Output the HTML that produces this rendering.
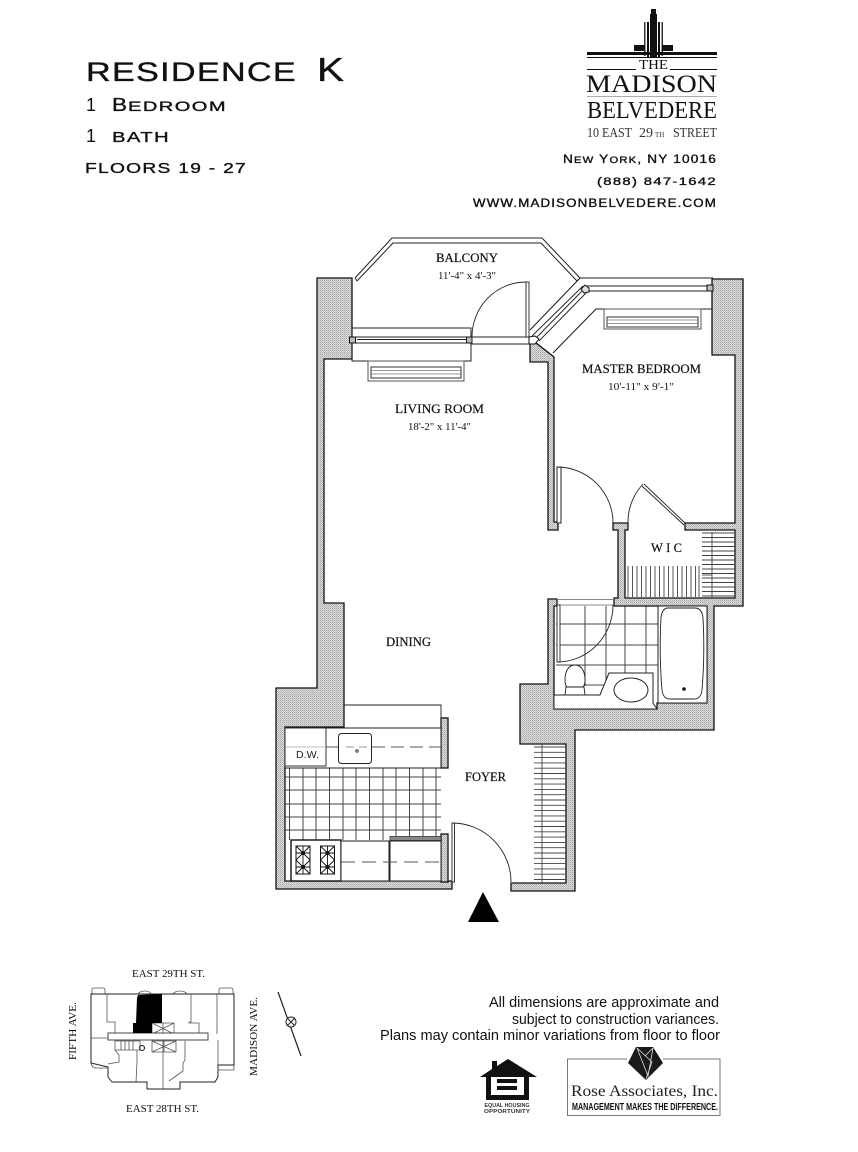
<!DOCTYPE html>
<html><head><meta charset="utf-8"><style>
html,body{margin:0;padding:0;background:#fff;width:858px;height:1152px;overflow:hidden}
svg{display:block}
.s{font-family:"Liberation Sans",sans-serif}
.r{font-family:"Liberation Serif",serif}
.lb{font-family:"Liberation Serif",serif;fill:#111;font-size:12.5px;stroke:#111;stroke-width:.2}
.dm{font-family:"Liberation Serif",serif;fill:#111;font-size:10.5px}
.w{fill:url(#st);stroke:#111;stroke-width:1.3}
.t{fill:none;stroke:#222;stroke-width:.9}
.f{fill:#fff;stroke:#222;stroke-width:1}
.g{fill:none;stroke:#444;stroke-width:1}
.h{stroke:#111;stroke-width:.35}
</style></head><body>
<svg width="858" height="1152" viewBox="0 0 858 1152" xmlns="http://www.w3.org/2000/svg">
<defs>
<pattern id="st" width="2" height="2" patternUnits="userSpaceOnUse"><rect width="2" height="2" fill="#dedede"/><rect width="1" height="1" fill="#a4a4a4"/><rect x="1" y="1" width="1" height="1" fill="#bcbcbc"/></pattern>
</defs>
<rect width="858" height="1152" fill="#fff"/>

<!-- header left -->
<g class="s" fill="#111">
<text class="h" x="86" y="81" font-size="26.5" textLength="211" lengthAdjust="spacingAndGlyphs" letter-spacing="1">RESIDENCE</text>
<text class="h" x="317" y="81" font-size="33" textLength="27" lengthAdjust="spacingAndGlyphs">K</text>
<text x="86" y="111" font-size="18">1</text>
<text class="h" x="112" y="111" font-size="18" textLength="15" lengthAdjust="spacingAndGlyphs">B</text>
<text class="h" x="128" y="111" font-size="14" textLength="99" lengthAdjust="spacingAndGlyphs" letter-spacing="1">EDROOM</text>
<text x="86" y="142" font-size="18">1</text>
<text class="h" x="112" y="142" font-size="15" textLength="58" lengthAdjust="spacingAndGlyphs" letter-spacing="1">BATH</text>
<text class="h" x="85" y="173" font-size="15" textLength="162" lengthAdjust="spacingAndGlyphs" letter-spacing="1">FLOORS 19 - 27</text>
</g>

<!-- logo -->
<g fill="#111">
<rect x="651" y="9" width="5" height="6"/><rect x="650" y="14" width="7" height="44"/>
<rect x="647" y="22" width="2" height="36"/><rect x="658" y="22" width="2" height="36"/>
<rect x="644" y="22" width="1.5" height="34" fill="#333"/><rect x="661.5" y="22" width="1.5" height="34" fill="#333"/>
<rect x="634" y="45" width="11" height="6"/><rect x="662" y="45" width="11" height="6"/>
<rect x="587" y="52" width="130" height="3"/><rect x="587" y="57" width="130" height="1"/>
<rect x="587" y="69" width="49" height="1"/><rect x="670" y="69" width="47" height="1"/>
<rect x="587" y="96" width="130" height=".7" fill="#888"/>
</g>
<g class="r" fill="#111" text-anchor="start">
<text x="639" y="69" font-size="13.5" textLength="29" lengthAdjust="spacingAndGlyphs">THE</text>
<text x="586" y="92" font-size="25" textLength="131" lengthAdjust="spacingAndGlyphs">MADISON</text>
<text x="587" y="118" font-size="24" textLength="130" lengthAdjust="spacingAndGlyphs">BELVEDERE</text>
<text x="587" y="137" font-size="13.5" fill="#333" textLength="45" lengthAdjust="spacingAndGlyphs">10 EAST</text>
<text x="639" y="137" font-size="14" fill="#333">29</text>
<text x="655" y="137" font-size="7" fill="#333">TH</text>
<text x="673" y="137" font-size="13.5" fill="#333" textLength="44" lengthAdjust="spacingAndGlyphs">STREET</text>
</g>
<g class="s" fill="#111">
<text class="h" x="563" y="163" font-size="11.5" textLength="154" lengthAdjust="spacingAndGlyphs" letter-spacing="1">N<tspan font-size="9.5">EW</tspan> Y<tspan font-size="9.5">ORK</tspan>, NY 10016</text>
<text class="h" x="597" y="185" font-size="11" textLength="120" lengthAdjust="spacingAndGlyphs" letter-spacing="1">(888) 847-1642</text>
<text class="h" x="473" y="207" font-size="11.5" textLength="244" lengthAdjust="spacingAndGlyphs" letter-spacing="1">WWW.MADISONBELVEDERE.COM</text>
</g>

<!-- balcony rail -->
<path d="M355 278L392 238L542 238L580 278" fill="none" stroke="#222" stroke-width="1"/>
<path d="M357 281L393 243L541 243L577 281" fill="none" stroke="#222" stroke-width="1"/>
<path d="M355 278L357 281M577 281L580 278" class="t"/>

<!-- kitchen floor tiles -->
<g class="g">
<path d="M289.500 768V840M303 768V840M316 768V840M329.500 768V840M343 768V840M356 768V840M369.500 768V840M383 768V840M396 768V840M409.500 768V840M423 768V840M436 768V840"/>
<path d="M285 777H441M285 790H441M285 804H441M285 817H441M285 830H441"/>
</g>

<!-- bath tiles -->
<g class="g">
<path d="M585 606V686M606 606V680M625 606V680M646 606V673"/>
<path d="M556 624H658M556 645H658M556 665H658M585 685H606"/>
</g>

<!-- walls -->
<polygon class="w" points="285,727 344,727 344,603 324,603 324,359 352,359 352,278 317,278 317,688 276,688 276,889 452,889 452,881 441,881 285,881"/>
<polygon class="w" points="712,279 743,279 743,606 714,606 714,730 575,730 575,891 511,891 511,883 566,883 566,744 520,744 520,684 548,684 548,599 557,599 557,606 554,606 554,709 657,709 657,703 707,703 707,606 614,606 614,598 618,598 618,530 613,530 613,523 628,523 628,530 625,530 625,598 735,598 735,530 685,530 685,523 735,523 735,355 712,355"/>
<polygon class="w" points="530,344 536,343 554,357 554,522 558,522 558,530 548,530 548,362 530,362"/>
<rect class="w" x="441" y="718" width="7" height="50"/>
<rect class="w" x="441" y="834" width="7" height="48"/>

<!-- living window & bay -->
<rect x="352" y="328" width="119" height="33" fill="none" stroke="#222" stroke-width="1"/>
<rect class="f" x="352" y="337" width="118" height="6"/>
<path d="M357 339.500H468" stroke="#222" stroke-width="1.100"/>
<rect x="349.500" y="337" width="6" height="6" fill="#bbb" stroke="#111" stroke-width="1"/>
<rect x="466.500" y="337" width="6" height="6" fill="#bbb" stroke="#111" stroke-width="1"/>
<rect class="f" x="472" y="337" width="58" height="7"/>
<!-- living heater -->
<rect x="368" y="361" width="96" height="20" fill="none" stroke="#555" stroke-width="1"/>
<rect x="371" y="367" width="90" height="11" fill="none" stroke="#333" stroke-width="1"/>
<path d="M371 370.500H461M371 374H461" stroke="#777" stroke-width=".8"/>

<!-- balcony door -->
<rect x="526" y="282" width="3" height="55" fill="#fff" stroke="#222" stroke-width=".9"/>
<path d="M526 282A54 55 0 0 0 472 337" class="t"/>

<!-- bedroom bay -->
<path d="M580 278H713" stroke="#222" stroke-width="1.100" fill="none"/>
<path d="M580 278L530 330" stroke="#222" stroke-width="1.100" fill="none"/>
<path d="M712 309H596L553 353" stroke="#222" stroke-width="1.100" fill="none"/>
<path d="M585 286H708M585 291H708" class="t" stroke-width="1.100"/>
<path d="M583 286L532 336M587 292L539 341M584 289L536 338" class="t"/>
<rect x="707" y="285" width="6" height="6" fill="#bbb" stroke="#111" stroke-width="1"/>
<polygon points="581,289 585,285 589,288 589,292 584,293" fill="#ddd" stroke="#111" stroke-width="1"/>
<polygon points="529,337 535,336 539,339 535,344 529,344" fill="#fff" stroke="#111" stroke-width="1"/>
<!-- bedroom heater -->
<rect x="604" y="309" width="97" height="20" fill="none" stroke="#555" stroke-width="1"/>
<rect x="607" y="317" width="91" height="10" fill="none" stroke="#333" stroke-width="1"/>
<path d="M607 320H698M607 323.500H698" stroke="#777" stroke-width=".8"/>

<!-- bedroom door -->
<rect x="557" y="467" width="4" height="56" fill="#fff" stroke="#222" stroke-width="1"/>
<path d="M557 467A56 56 0 0 1 613 523" class="t"/>
<!-- WIC door -->
<path d="M644 484L685 523M642 486L684 525" class="t"/>
<path d="M643 484A56 56 0 0 0 628 523" class="t"/>

<!-- WIC shelves -->
<g stroke="#444" stroke-width=".9" fill="none">
<path d="M702 533H735M702 537.500H735M702 542H735M702 546.500H735M702 551H735M702 555.500H735M702 560H735M702 564.500H735M702 569H735M702 573.500H735M702 578H735M702 582.500H735M702 587H735M702 591.500H735M702 596H735"/>
<path d="M712 532V597"/>
<path d="M628 566V597M632.500 566V597M637 566V597M641.500 566V597M646 566V597M650.500 566V597M655 566V597M659.500 566V597M664 566V597M668.500 566V597M673 566V597M677.500 566V597M682 566V597M686.500 566V597M691 566V597M695.500 566V597M699 566V597"/>
<path d="M702 575H712"/>
</g>

<!-- bath door -->
<path d="M557 599.500H614M557 605H614" stroke="#888" stroke-width=".9"/>
<rect x="557" y="605" width="3" height="57" fill="#fff" stroke="#222" stroke-width=".9"/>
<path d="M557 662A56 57 0 0 0 613 605" class="t"/>

<!-- tub -->
<rect x="658" y="606" width="49" height="97" fill="#fff" stroke="#222" stroke-width="1"/>
<path d="M668 608H695Q702 608 703 618Q705 655 702 690Q701 699 694 699H670Q663 699 662 690Q659 655 661 618Q662 608 668 608Z" class="t"/>
<circle cx="684" cy="689" r="1.800" fill="#111"/>

<!-- vanity -->
<path d="M554 695H600L609 673H653V703L657 709H554Z" fill="#fff" stroke="#222" stroke-width="1"/>
<ellipse cx="631" cy="690" rx="17" ry="12" fill="#fff" stroke="#222" stroke-width="1"/>
<!-- toilet -->
<path d="M575 665C582 665 585 672 585 680C585 684 584 686 583 687H567C566 686 565 684 565 680C565 672 568 665 575 665Z" fill="#fff" stroke="#222" stroke-width=".9"/>
<path d="M566 687H584L585 695H565Z" fill="#fff" stroke="#222" stroke-width=".9"/>

<!-- kitchen counter -->
<path d="M344 705H441V728" class="t" stroke-width="1"/>
<rect x="285" y="728" width="156" height="40" fill="#fff" stroke="#222" stroke-width="1"/>
<rect x="285" y="728" width="41" height="38" fill="#fff" stroke="#333" stroke-width="1"/>
<path d="M326 747H338M372 747H441" stroke="#555" stroke-width="1" stroke-dasharray="13 6"/>
<path d="M285 747H326" stroke="#aaa" stroke-width=".8"/>
<rect x="338.500" y="733.500" width="33" height="30" rx="3" fill="#fff" stroke="#222" stroke-width="1"/>
<path d="M346 747H368" stroke="#777" stroke-width=".8" stroke-dasharray="8 5"/>
<circle cx="357" cy="751" r="1.200" fill="none" stroke="#111" stroke-width=".8"/>

<!-- stove -->
<rect x="291" y="840" width="50" height="41" fill="#fff" stroke="#111" stroke-width="1.400"/>
<rect x="296" y="846" width="14" height="28" fill="#fff" stroke="#111" stroke-width="1"/>
<rect x="320.500" y="846" width="14" height="28" fill="#fff" stroke="#111" stroke-width="1"/>
<g stroke="#111" stroke-width=".9" fill="none">
<path d="M296 846L310 860M310 846L296 860M303 846V860M296 853H310"/>
<path d="M296 860L310 874M310 860L296 874M303 860V874M296 867H310"/>
<path d="M320.500 846L334.500 860M334.500 846L320.500 860M327.500 846V860M320.500 853H334.500"/>
<path d="M320.500 860L334.500 874M334.500 860L320.500 874M327.500 860V874M320.500 867H334.500"/>
</g>
<g fill="#111"><circle cx="303" cy="853" r="2"/><circle cx="303" cy="867" r="2"/><circle cx="327.500" cy="853" r="2"/><circle cx="327.500" cy="867" r="2"/></g>
<rect x="341" y="841" width="48" height="40" fill="#fff" stroke="#222" stroke-width="1"/>
<rect x="390" y="841" width="51" height="40" fill="#fff" stroke="#222" stroke-width="1"/>
<rect x="390" y="836.500" width="51" height="4" fill="#888" stroke="#222" stroke-width=".7"/>
<path d="M341 862H441" stroke="#555" stroke-width="1" stroke-dasharray="14 7"/>

<!-- entry door -->
<rect x="452" y="823" width="2.500" height="59" fill="#fff" stroke="#222" stroke-width=".9"/>
<path d="M452 823A59 59 0 0 1 511 882" class="t"/>

<!-- foyer closet -->
<g stroke="#444" stroke-width=".9" fill="none">
<path d="M534 747H566M534 752.300H566M534 757.600H566M534 762.900H566M534 768.200H566M534 773.500H566M534 778.800H566M534 784.100H566M534 789.400H566M534 794.700H566M534 800H566M534 805.300H566M534 810.600H566M534 815.900H566M534 821.200H566M534 826.500H566M534 831.800H566M534 837.100H566M534 842.400H566M534 847.700H566M534 853H566M534 858.300H566M534 863.600H566M534 868.900H566M534 874.200H566M534 879.500H566"/>
<path d="M542 744V883"/>
</g>

<!-- entry triangle -->
<polygon points="483,892 468,922 499,922" fill="#000"/>

<!-- labels -->
<text class="lb" x="436" y="262" textLength="62" lengthAdjust="spacingAndGlyphs">BALCONY</text>
<text class="dm" x="438" y="279" textLength="58" lengthAdjust="spacingAndGlyphs">11'-4" x 4'-3"</text>
<text class="lb" x="395" y="413" textLength="89" lengthAdjust="spacingAndGlyphs">LIVING  ROOM</text>
<text class="dm" x="408" y="430" textLength="63" lengthAdjust="spacingAndGlyphs">18'-2" x 11'-4"</text>
<text class="lb" x="582" y="373" textLength="119" lengthAdjust="spacingAndGlyphs">MASTER BEDROOM</text>
<text class="dm" x="608" y="390" textLength="66" lengthAdjust="spacingAndGlyphs">10'-11" x  9'-1"</text>
<text class="lb" x="651" y="552" textLength="31" lengthAdjust="spacing">WIC</text>
<text class="lb" x="386" y="646" textLength="45" lengthAdjust="spacingAndGlyphs">DINING</text>
<text class="lb" x="465" y="781" textLength="41" lengthAdjust="spacingAndGlyphs">FOYER</text>
<text class="s" x="296" y="758" font-size="10.500" fill="#222" textLength="23" lengthAdjust="spacingAndGlyphs">D.W.</text>

<!-- key plan -->
<g class="r" fill="#111" font-size="10">
<text x="132" y="977" textLength="73" lengthAdjust="spacingAndGlyphs">EAST 29TH ST.</text>
<text x="126" y="1112" textLength="73" lengthAdjust="spacingAndGlyphs">EAST 28TH ST.</text>
<text transform="translate(76 1060) rotate(-90)" textLength="58" lengthAdjust="spacingAndGlyphs">FIFTH AVE.</text>
<text transform="translate(257 1076) rotate(-90)" textLength="79" lengthAdjust="spacingAndGlyphs">MADISON AVE.</text>
</g>
<g fill="none" stroke="#555" stroke-width=".8">
<path d="M92 994V990Q92 988 94 988H103Q105 988 105 990V994M138 994Q140 991 145 991Q150 991 151 994M173 994Q175 991 180 991Q185 991 187 994M219 994V990Q219 988 221 988H231Q233 988 233 990V994M234 1065V1070H219M91 1063Q92 1068 96 1068H108"/>
<path d="M107 994V1022H115V1034M217 994V1034M191 994V1022H189V1023H199V1034M163 1040V1089M137 1050V1062L136 1082M185 1041V1060L183 1063V1071L169 1081M218 1040V1066M91 1038H109M115 1050L119 1055V1062L108 1064"/>
<path d="M152 1023H174V1034H152ZM152 1023L174 1034M174 1023L152 1034M163 1023V1034"/>
<path d="M152 1041H176V1052H152ZM152 1041L176 1052M176 1041L152 1052M164 1041V1052"/>
<path d="M115 1041H140V1050H115ZM121 1041V1050M125 1041V1050M129 1041V1050M133 1041V1050"/>
</g>
<path d="M91 994H234V1065H218V1077L215 1082H180V1089H147V1082H112L108 1077V1067L91 1063Z" fill="none" stroke="#222" stroke-width="1"/>
<rect x="108" y="1033" width="100" height="7" fill="#fff" stroke="#333" stroke-width=".9"/>
<polygon points="137,998 138,995 162,994 162,1023 152,1023 152,1033 133,1033 133,1023 136,1023" fill="#000"/>
<circle cx="142" cy="1048" r="2.500" fill="none" stroke="#111"/>
<path d="M278 992L301 1056" stroke="#222" stroke-width="1.200"/>
<circle cx="291" cy="1022" r="5" fill="#fff" stroke="#222"/>
<path d="M287 1026L295 1018M288 1019L294 1025" stroke="#222"/>

<!-- notes -->
<g class="s" fill="#111" font-size="14.500" text-anchor="end">
<text x="719" y="1007" textLength="230" lengthAdjust="spacingAndGlyphs">All dimensions are approximate and</text>
<text x="719" y="1024" textLength="207" lengthAdjust="spacingAndGlyphs">subject to construction variances.</text>
<text x="720" y="1040" textLength="340" lengthAdjust="spacingAndGlyphs">Plans may contain minor variations from floor to floor</text>
</g>

<!-- EHO -->
<path d="M508 1059L537 1077H529V1100H486V1077H480L492 1069V1061H497V1066Z" fill="#111"/>
<rect x="491" y="1077" width="33" height="18" fill="#fff"/>
<rect x="497" y="1079" width="20" height="4" fill="#111"/><rect x="497" y="1086" width="20" height="4" fill="#111"/>
<g class="s" fill="#333" font-size="5" font-weight="bold" text-anchor="middle">
<text x="507" y="1107" textLength="45" lengthAdjust="spacingAndGlyphs">EQUAL HOUSING</text>
<text x="507" y="1113" textLength="46" lengthAdjust="spacingAndGlyphs">OPPORTUNITY</text>
</g>

<!-- Rose Associates -->
<path d="M627 1059H567.500V1115.500H720V1059H663" fill="none" stroke="#777" stroke-width="1"/>
<polygon points="636,1047 653,1047 663,1063 646,1080 628,1063" fill="#1a1a1a"/>
<path d="M637 1048L648 1076L653 1048M637 1048L652 1062L646 1079M653 1048L645 1056" stroke="#ddd" stroke-width=".8" fill="none"/>
<text class="r" x="571" y="1096" font-size="16" fill="#222" textLength="147" lengthAdjust="spacingAndGlyphs">Rose Associates, Inc.</text>
<text class="s" x="572" y="1110" font-size="10.500" font-weight="bold" fill="#111" textLength="146" lengthAdjust="spacingAndGlyphs">MANAGEMENT MAKES THE DIFFERENCE.</text>
</svg>
</body></html>
